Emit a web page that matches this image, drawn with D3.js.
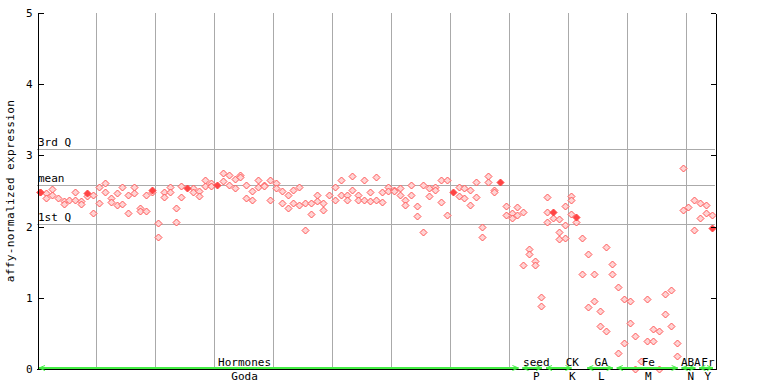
<!DOCTYPE html>
<html>
<head>
<meta charset="utf-8">
<script src="https://cdn.jsdelivr.net/npm/d3@7"></script>
<style>
  body { margin: 0; background: #fff; }
  text { font-family: "DejaVu Sans Mono", "Liberation Mono", monospace; font-size: 11px; fill: #000; }
</style>
</head>
<body>
<div id="chart"></div>
<script>
// replicate values per sample (index = sample position)
var sampleValues = [
  [2.49],[2.47,2.40],[2.53,2.44],[2.40],[2.36,2.32],[2.37],[2.49,2.38],[2.36,2.32],[2.43],[2.44,2.19],
  [2.55,2.33],[2.61,2.49],[2.40,2.34],[2.47,2.30],[2.55,2.32],[2.45,2.19],[2.55,2.47],[2.26,2.22],[2.45,2.22],[2.49],
  [2.05,1.85],[2.48,2.41],[2.55,2.48],[2.26,2.07],[2.57,2.41],[],[2.54,2.48],[2.50,2.43],[2.65,2.57],[2.61,2.57],
  [],[2.75,2.64],[2.73,2.58],[2.67,2.54],[2.72,2.69],[2.59,2.40],[2.50,2.37],[2.65,2.55],[2.59,2.57],[2.66,2.38],
  [2.61,2.54],[2.50,2.33],[2.45,2.26],[2.52,2.33],[2.55,2.30],[2.33,1.95],[2.33,2.17],[2.44,2.36],[2.33,2.24],[2.45],
  [2.55,2.38],[2.65,2.45],[2.45,2.38],[2.71,2.51],[2.45,2.38],[2.66,2.38],[2.48,2.36],[2.69,2.38],[2.48,2.34],[2.55,2.50],
  [2.52,2.50],[2.54,2.45],[2.38,2.30],[2.59,2.45],[2.29,2.15],[2.59,1.92],[2.54,2.43],[2.55,2.52],[2.65,2.34],[2.65,2.16],
  [],[2.55,2.43],[2.54,2.40],[2.52,2.30],[2.62,2.41],[2.00,1.86],[2.71,2.62],[2.51,2.48],[],[2.29,2.16],
  [2.19,2.12],[2.27,2.16],[2.21,1.46],[1.68,1.61],[1.51,1.46],[1.01,0.88],[2.41,2.21,2.06],[2.12],[2.10,1.92,1.82],[2.29,2.02,1.84],
  [2.43,2.38,2.17],[2.07],[1.84,1.34],[1.61,0.87],[1.34,0.96],[0.81,0.61],[1.71,0.54],[1.47,1.33],[1.15,0.22],[0.99,0.36],
  [0.96,0.64],[0.47,0.0],[0.11],[0.98,0.39],[0.56,0.39],[0.54,0.0],[1.06,0.77],[1.11,0.61],[0.36,0.18],[2.82,2.24],
  [2.27],[2.37,1.95],[2.33,2.12],[2.31,2.19],[2.16]
];
// highlighted (solid) points: [sample index, value]
var highlighted = [[0,2.49],[8,2.47],[19,2.51],[25,2.54],[30,2.59],[70,2.48],[78,2.62],[87,2.21],[91,2.14],[114,1.98]];

var refLines = [
  {label: "3rd Q", value: 3.09},
  {label: "mean", value: 2.58},
  {label: "1st Q", value: 2.04}
];
var yTicks = [0, 1, 2, 3, 4, 5];

// categories: top label, bottom label, first sample, last sample, label position (sample index)
var catNames = ["Hormones", "seed", "CK", "GA", "Fe", "ABA", "Fr"];
var catCodes = ["Goda", "P", "K", "L", "M", "N", "Y"];
var catStart = [0, 82, 86, 93, 98, 109, 112];
var catEnd   = [81, 85, 90, 97, 108, 111, 114];
var catLabelAt = [34.7, 84.2, 90.3, 95.2, 103.2, 110.4, 113.3];

var nSamples = 115;
var width = 768, height = 384;
var margin = { left: 37, top: 13, right: 53, bottom: 15 };

var svg = d3.select("#chart").append("svg")
  .attr("width", width)
  .attr("height", height);

var x = d3.scaleLinear().domain([0, nSamples]).range([margin.left, width - margin.right]);
var y = d3.scaleLinear().domain([0, 5]).range([height - margin.bottom, margin.top]);
var xc = function(i) { return Math.round(x(i + 0.5)); };

// vertical grid lines every 10 samples
var grid = svg.append("g").attr("shape-rendering", "crispEdges");
grid.selectAll("line.v")
  .data(d3.range(10, nSamples, 10))
  .enter().append("line")
  .attr("class", "v")
  .attr("x1", d => Math.round(x(d)) + 0.5).attr("x2", d => Math.round(x(d)) + 0.5)
  .attr("y1", y(5)).attr("y2", y(0))
  .attr("stroke", "#aaaaaa");

// reference lines
grid.selectAll("line.h")
  .data(refLines)
  .enter().append("line")
  .attr("class", "h")
  .attr("x1", x(0)).attr("x2", x(nSamples))
  .attr("y1", d => Math.round(y(d.value)) + 0.5).attr("y2", d => Math.round(y(d.value)) + 0.5)
  .attr("stroke", "#aaaaaa");

svg.selectAll("text.ref")
  .data(refLines)
  .enter().append("text")
  .attr("class", "ref")
  .attr("x", x(0) + 1)
  .attr("y", d => Math.round(y(d.value)) - 3)
  .text(d => d.label);

// points
var pts = [];
sampleValues.forEach(function(vals, i) {
  vals.forEach(function(v) { pts.push({i: i, v: v}); });
});

var diamond = function(cx, cy, r) {
  return "M" + cx + "," + (cy - r) + "L" + (cx + r) + "," + cy + "L" + cx + "," + (cy + r) + "L" + (cx - r) + "," + cy + "Z";
};

svg.append("g").selectAll("path")
  .data(pts)
  .enter().append("path")
  .attr("d", d => diamond(xc(d.i) + 0.5, Math.round(y(d.v)) + 0.5, 3.5))
  .attr("fill", "#ffd4d4")
  .attr("stroke", "#ff5555")
  .attr("stroke-width", 1);

svg.append("g").selectAll("path")
  .data(highlighted)
  .enter().append("path")
  .attr("d", d => diamond(xc(d[0]) + 0.5, Math.round(y(d[1])) + 0.5, 3.5))
  .attr("fill", "#ff4444")
  .attr("stroke", "#ff4444")
  .attr("stroke-width", 1);

// axes
var yAxis = d3.axisLeft(y).tickValues(yTicks).tickFormat(d3.format("d"))
  .tickSizeInner(-6).tickSizeOuter(0).tickPadding(5);
var yAxisG = svg.append("g")
  .attr("transform", "translate(" + (margin.left + 0.5) + ",0)")
  .call(yAxis);
yAxisG.selectAll("text").style("font-size", "11px").attr("font-family", null);

var yAxisR = d3.axisRight(y).tickValues(yTicks).tickSizeInner(-5).tickSizeOuter(0).tickFormat("");
svg.append("g")
  .attr("transform", "translate(" + (width - margin.right + 0.5) + ",0)")
  .call(yAxisR);

svg.append("line")
  .attr("x1", x(0)).attr("x2", x(nSamples) + 1)
  .attr("y1", y(0) + 0.5).attr("y2", y(0) + 0.5)
  .attr("stroke", "#000");

svg.selectAll(".domain, .tick line").attr("shape-rendering", "crispEdges");

svg.append("text")
  .attr("transform", "translate(14," + ((y(0) + y(5)) / 2) + ") rotate(-90)")
  .attr("text-anchor", "middle")
  .style("letter-spacing", "0.4px")
  .text("affy-normalized expression");

// category spans along the bottom
var green = "#44ee44";
var cats = catNames.map(function(n, k) {
  return {name: n, code: catCodes[k], s: catStart[k], e: catEnd[k], at: catLabelAt[k]};
});
var catG = svg.append("g").selectAll("g")
  .data(cats)
  .enter().append("g");

var gy = y(0) - 1;
catG.append("line")
  .attr("x1", d => x(d.s) + 2).attr("x2", d => x(d.e + 1) - 2)
  .attr("y1", gy).attr("y2", gy)
  .attr("stroke", green).attr("stroke-width", 2);
catG.append("path")
  .attr("d", d => {
    var a = x(d.s) + 2, b = x(d.e + 1) - 2;
    return "M" + (a + 6) + "," + (gy - 2.5) + "L" + a + "," + gy + "L" + (a + 6) + "," + (gy + 2.5) +
      "M" + (b - 6) + "," + (gy - 2.5) + "L" + b + "," + gy + "L" + (b - 6) + "," + (gy + 2.5);
  })
  .attr("fill", "none").attr("stroke", green).attr("stroke-width", 1);

catG.append("text")
  .attr("x", d => x(d.at + 0.5))
  .attr("y", y(0) - 3)
  .attr("text-anchor", "middle")
  .text(d => d.name);
catG.append("text")
  .attr("x", d => x(d.at + 0.5))
  .attr("y", y(0) + 11)
  .attr("text-anchor", "middle")
  .text(d => d.code);
</script>
</body>
</html>
